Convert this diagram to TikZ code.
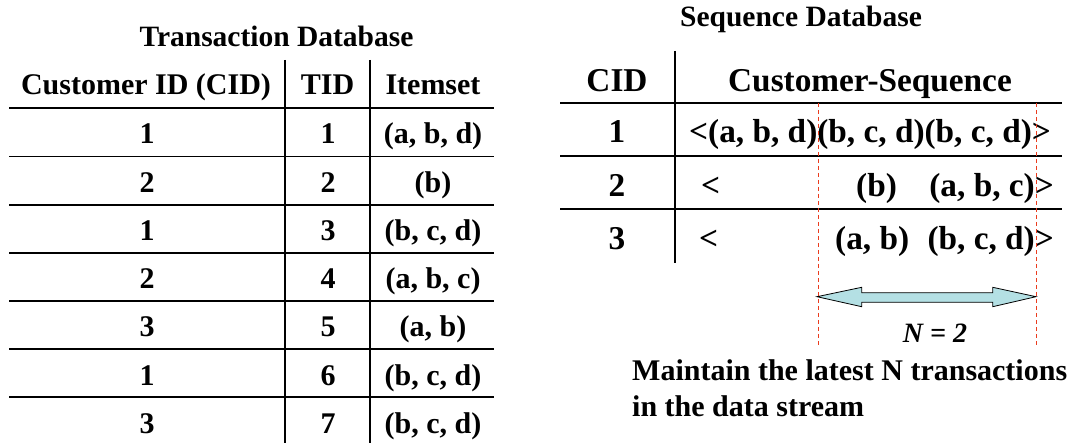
\documentclass[tikz,border=0pt]{standalone}
\usepackage{fontspec}
\setmainfont{Liberation Serif}
\definecolor{windowred}{RGB}{235,60,30}
\definecolor{bandfill}{RGB}{180,224,228}
\begin{document}
\begin{tikzpicture}[x=1pt,y=-1pt,
  rule/.style={line width=1.8pt,black},
  title/.style={font=\fontsize{29.5}{35}\selectfont\bfseries,inner sep=0pt,anchor=base},
  cell/.style={font=\fontsize{30}{36}\selectfont\bfseries,inner sep=0pt,anchor=base},
  seqcell/.style={font=\fontsize{33.3}{40}\selectfont\bfseries,inner sep=0pt,anchor=base},
  note/.style={font=\fontsize{30}{36}\selectfont\bfseries,inner sep=0pt,anchor=base west},
  window/.style={windowred,line width=0.8pt,dash pattern=on 4pt off 3pt},
  band/.style={draw=black,fill=bandfill,line width=0.8pt,line join=miter}]
\useasboundingbox (0,0) rectangle (1073,443);

% ---------------- Transaction database ----------------
\node[title] (ttitle) at (276.5,46.7) {Transaction Database};
\node[cell] (hcid) at (146,95) {Customer ID (CID)};
\node[cell] (htid) at (327.5,95) {TID};
\node[cell] (hitem) at (433,95) {Itemset};

\foreach \k in {0,...,6}
  \draw[rule] (9,{108.3+48.17*\k}) -- (494,{108.3+48.17*\k});
\draw[rule] (285,60) -- (285,443);
\draw[rule] (370,60) -- (370,443);

\foreach \c/\t/\s [count=\r] in {1/1/{(a, b, d)},2/2/{(b)},1/3/{(b, c, d)},2/4/{(a, b, c)},3/5/{(a, b)},1/6/{(b, c, d)},3/7/{(b, c, d)}} {
  \pgfmathsetmacro\yb{144+48.2*(\r-1)}
  \node[cell] (cid\r) at (147,\yb) {\c};
  \node[cell] (tid\r) at (328,\yb) {\t};
  \node[cell] (set\r) at (433,\yb) {\s};
}

% ---------------- Sequence database ----------------
\node[title] (stitle) at (801,26.7) {Sequence Database};
\node[seqcell] (scid) at (617,92) {CID};
\node[seqcell] (sseq) at (870,92) {Customer-Sequence};

\foreach \y in {103,156,209.4}
  \draw[rule] (560,\y) -- (1062,\y);
\draw[rule] (675,51) -- (675,263);

\node[seqcell] (c1) at (617,143) {1};
\node[seqcell] (c2) at (617,196.5) {2};
\node[seqcell] (c3) at (617,249.5) {3};

\node[seqcell,anchor=base west] (s1) at (689,143) {<(a, b, d)(b, c, d)(b, c, d)>};
\node[seqcell,anchor=base west] (s2open) at (701,196.5) {<};
\node[seqcell,anchor=base west] (s2a) at (856,196.5) {(b)};
\node[seqcell,anchor=base east] (s2b) at (1054,196.5) {(a, b, c)>};
\node[seqcell,anchor=base west] (s3open) at (699,249.5) {<};
\node[seqcell,anchor=base west] (s3a) at (835,249.5) {(a, b)};
\node[seqcell,anchor=base east] (s3b) at (1054,249.5) {(b, c, d)>};

% ---------------- Sliding window of N transactions ----------------
\coordinate (wl) at (817,296.7);
\coordinate (wr) at (1036,296.7);
\draw[window] (818,103) -- (818,345);
\draw[window] (1036,103) -- (1036,345);

\draw[band] (wl) -- (861.7,287.3) -- (861.7,292.7) -- (992.7,292.7) -- (992.7,287.3)
  -- (wr) -- (992.7,306.7) -- (992.7,302.3) -- (861.7,302.3) -- (861.7,306.7) -- cycle;

\node[font=\fontsize{28}{34}\selectfont\bfseries\itshape,inner sep=0pt,anchor=base] (nlabel) at (935,342.7) {N = 2};

\node[note] (note1) at (632,380) {Maintain the latest N transactions};
\node[note] (note2) at (632,416.7) {in the data stream};
\end{tikzpicture}
\end{document}
